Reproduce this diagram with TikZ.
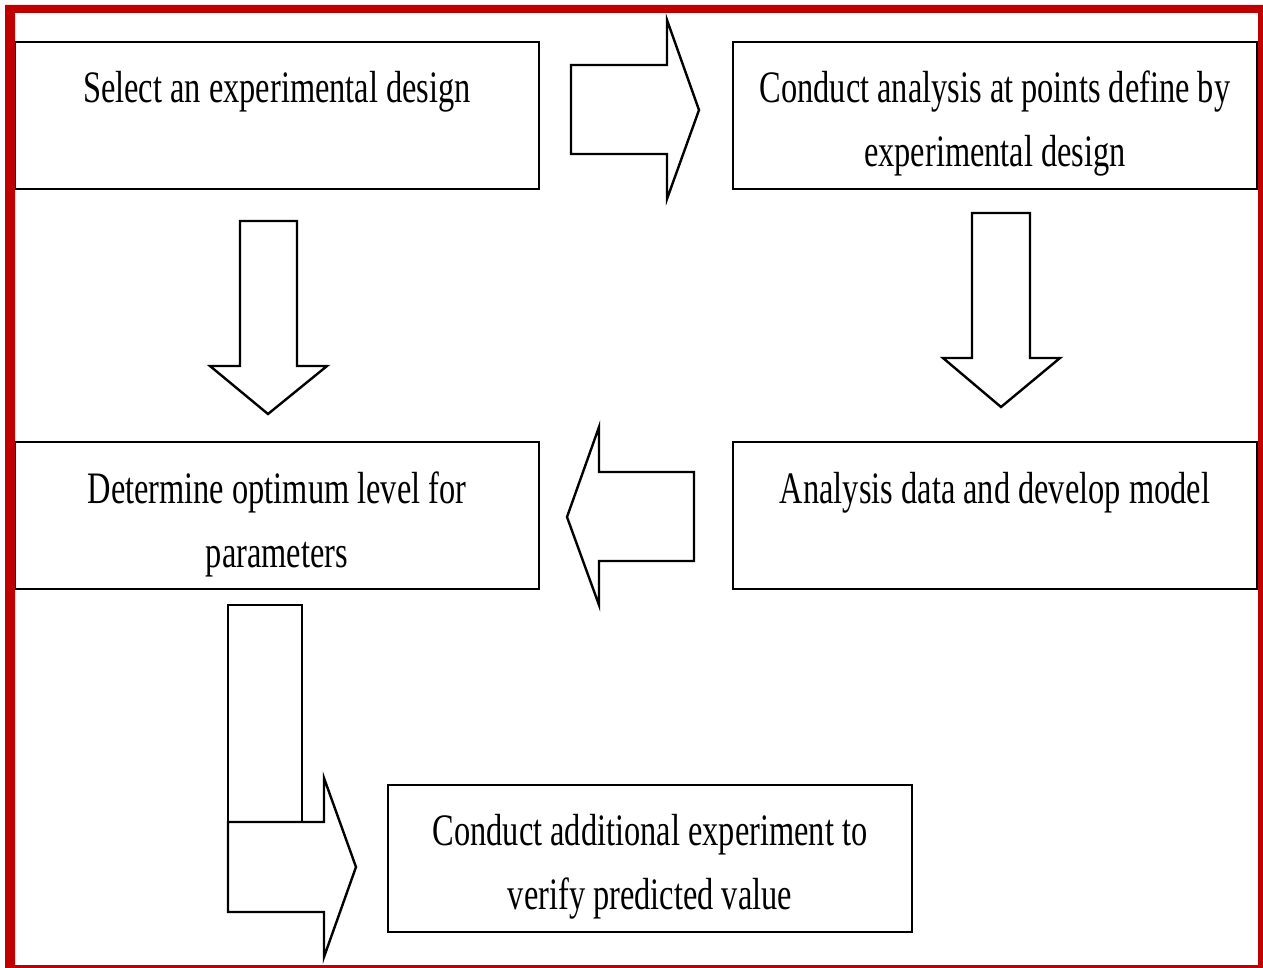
\documentclass[tikz,border=0pt]{standalone}
\usepackage{fontspec}
\setmainfont{Liberation Serif}[FakeStretch=0.72]
\definecolor{framered}{RGB}{192,0,0}
\begin{document}
\begin{tikzpicture}[x=1pt,y=-1pt,
  boxstyle/.style={draw=black,line width=2.4pt},
  blockarrow/.style={draw=black,line width=2.4pt,line join=miter,fill=white},
  labelstyle/.style={font=\fontsize{45}{64}\selectfont,align=center,anchor=base,inner sep=0pt}]
\useasboundingbox (0,0) rectangle (1263,968);
% boxes
\draw[boxstyle] (15,42) rectangle (539,189);
\draw[boxstyle] (733,42) rectangle (1257,189);
\draw[boxstyle] (15,442) rectangle (539,589);
\draw[boxstyle] (733,442) rectangle (1257,589);
\draw[boxstyle] (388,785) rectangle (912,932);
% labels (base anchor = baseline of last line)
\node[labelstyle] (t1) at (277,103) {Select an experimental design};
\node[labelstyle] (t2) at (995,167) {Conduct analysis at points define by\\experimental design};
\node[labelstyle] (t3) at (277,567) {Determine optimum level for\\parameters};
\node[labelstyle] (t4) at (995,503) {Analysis data and develop model};
\node[labelstyle] (t5) at (650,909) {Conduct additional experiment to\\verify predicted value};
% block arrows
\draw[blockarrow] (571,65) -- (667,65) -- (667,20) -- (699,110) -- (667,199) -- (667,154) -- (571,154) -- cycle;
\draw[blockarrow] (240,221) -- (297,221) -- (297,366) -- (327,366) -- (268,414) -- (210,366) -- (240,366) -- cycle;
\draw[blockarrow] (972,213) -- (1030,213) -- (1030,358) -- (1060,358) -- (1001,407) -- (943,358) -- (972,358) -- cycle;
\draw[blockarrow] (694,472) -- (599,472) -- (599,427) -- (567,517) -- (599,605) -- (599,561) -- (694,561) -- cycle;
\draw[blockarrow] (228,605) rectangle (302,822);
\draw[blockarrow] (228,822) -- (324,822) -- (324,778) -- (356,867) -- (324,957) -- (324,912) -- (228,912) -- cycle;
% red frame
\fill[framered,even odd rule] (5,5) rectangle (1263,968) (15,13) rectangle (1258,965);
\end{tikzpicture}
\end{document}
